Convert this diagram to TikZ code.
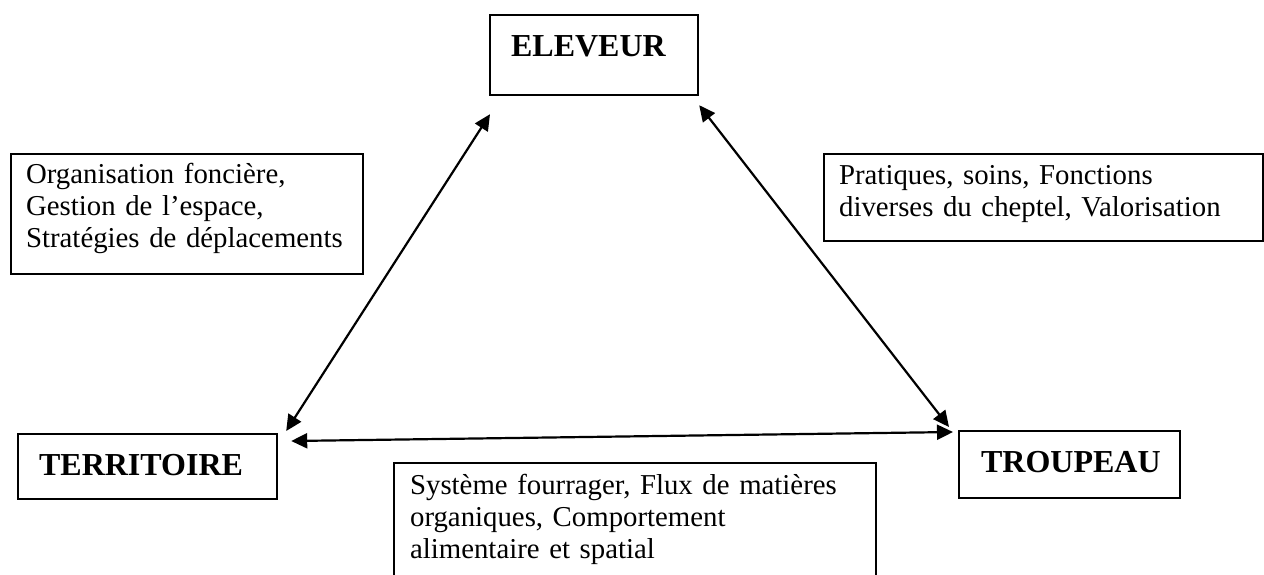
\documentclass[tikz,border=0pt]{standalone}
\usepackage{fontspec}
\setmainfont{Liberation Serif}
\usetikzlibrary{arrows.meta,calc}
\begin{document}
\begin{tikzpicture}[x=0.5pt,y=-0.5pt,
 box/.style={draw,line width=1.1pt,inner sep=0pt,align=left,anchor=north west},
 lbl/.style={box,font=\fontsize{16}{18}\selectfont\bfseries},
 note/.style={box,font=\fontsize{14.4}{16}\selectfont},
 link/.style={line width=1.1pt,{Triangle[length=8pt,width=7.5pt]}-{Triangle[length=8pt,width=7.5pt]}}]
\clip (0,0) rectangle (1264,574);
\fill[white] (0,0) rectangle (1264,574);
% main boxes
\node[lbl,text width=104pt,text height=20.5pt,text depth=19.5pt] (eleveur) at (489,14) {\hspace*{10.5pt}ELEVEUR};
\node[lbl,text width=129.5pt,text height=20.5pt,text depth=12pt] (territoire) at (17,433) {\hspace*{10.5pt}TERRITOIRE};
\node[lbl,text width=110.5pt,text height=20.5pt,text depth=13pt] (troupeau) at (958,430) {\hspace*{11pt}TROUPEAU};
% note boxes
\node[note,text width=176pt,text height=14.5pt,text depth=45.5pt] (org) at (10,153)
 {\hspace*{7.5pt}Organisation foncière,\\\hspace*{7.5pt}Gestion de l’espace,\\\hspace*{7.5pt}Stratégies de déplacements};
\node[note,text width=219.5pt,text height=15pt,text depth=28.5pt] (prat) at (823,153)
 {\hspace*{7.5pt}Pratiques, soins, Fonctions\\\hspace*{7.5pt}diverses du cheptel, Valorisation};
\node[note,text width=241pt,text height=15.5pt,text depth=60pt] (syst) at (393,462)
 {\hspace*{8pt}Système fourrager, Flux de matières\\\hspace*{8pt}organiques, Comportement\\\hspace*{8pt}alimentaire et spatial};
% connectors
\draw[link] ($(eleveur.south west)+(1,18)$) -- ($(territoire.north east)+(8,-2)$);
\draw[link] ($(eleveur.south east)+(0,9)$) -- ($(troupeau.north west)+(-9,-3)$);
\draw[link] ($(territoire.north east)+(13,8)$) -- ($(troupeau.north west)+(-5,2)$);
\end{tikzpicture}
\end{document}
